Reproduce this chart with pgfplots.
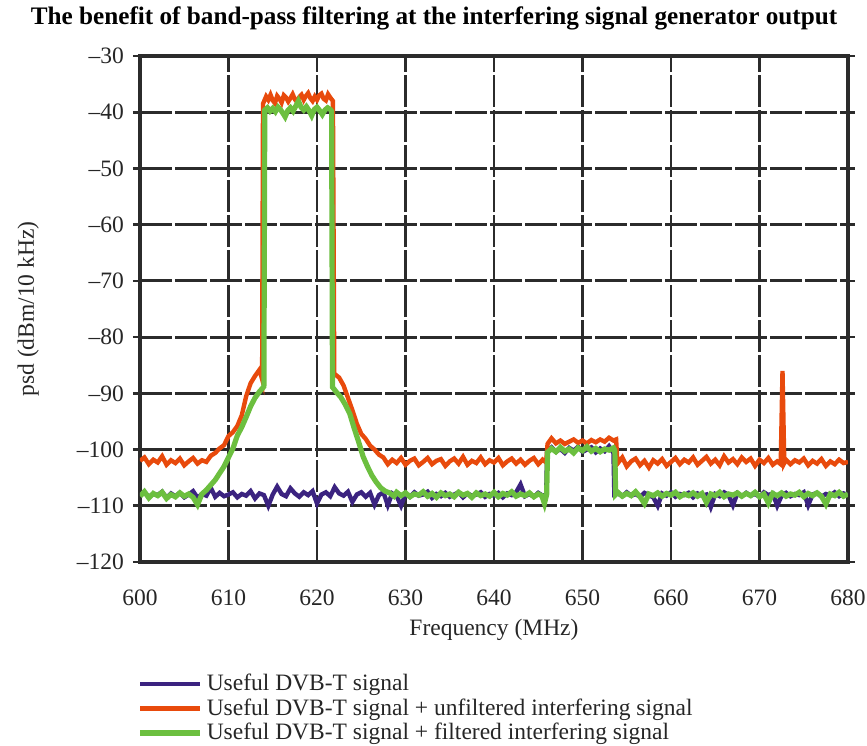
\documentclass[border=0pt]{standalone}
\usepackage{fontspec}
\setmainfont{Liberation Serif}
\usepackage{pgfplots}
\pgfplotsset{compat=1.18}
\definecolor{cblue}{HTML}{3B2380}
\definecolor{corange}{HTML}{E84A0C}
\definecolor{cgreen}{HTML}{6CBF3F}
\definecolor{cgrid}{HTML}{2B2B2B}
\begin{document}
\begin{tikzpicture}
\path[use as bounding box] (-70pt,-91.5pt) rectangle (363.5pt,281pt);
\begin{axis}[
  name=ax, at={(0,0)}, anchor=south west,
  scale only axis, width=354pt, height=253pt,
  xmin=600, xmax=680, ymin=-120, ymax=-30,
  xtick={600,610,...,680},
  ytick={-120,-110,...,-30},
  yticklabels={\textendash120,\textendash110,\textendash100,\textendash90,\textendash80,\textendash70,\textendash60,\textendash50,\textendash40,\textendash30},
  /pgf/number format/assume math mode=true,
  grid=major,
  major grid style={cgrid, line width=1.45pt, dash pattern=on 16pt off 1.5pt},
  axis line style={cgrid, line width=1.7pt},
  tick align=outside, major tick length=3.5pt,
  xtick style={draw=none}, ytick style={cgrid, line width=1.3pt},
  tick label style={font=\fontsize{11.75}{14}\selectfont, text=black!85},
  xticklabel style={yshift=-7pt},
  yticklabel style={xshift=-1pt},
  xlabel={Frequency (MHz)},
  xlabel style={at={(axis description cs:0.5,-0.134)}, anchor=center, font=\fontsize{11.75}{14}\selectfont, text=black!85},
  ylabel={psd (dBm/10 kHz)},
  ylabel style={at={(axis description cs:-0.158,0.5)}, anchor=center, font=\fontsize{11.75}{14}\selectfont, text=black!85},
  legend style={at={(axis description cs:-0.004,-0.205)}, anchor=north west, draw=none, fill=none,
    font=\fontsize{11.75}{12}\selectfont, text=black!85, inner xsep=0pt, row sep=-1.5pt},
  legend cell align=left,
  legend image code/.code={\draw[#1] (0pt,0pt) -- (22.5pt,0pt); \path (0pt,0pt) -- (30pt,0pt);},
]
\addplot[cblue, line width=2.2pt] table {
600 -108.2
600.5 -107.6
601 -108.4
601.5 -107.9
602 -108.1
602.5 -107.5
603 -108.6
603.5 -107.8
604 -108.3
604.5 -107.7
605 -108.5
605.5 -108.0
606 -107.4
606.5 -108.6
607 -107.9
607.5 -108.2
608 -106.8
608.5 -108.4
609 -107.7
609.5 -108.3
610 -108.0
610.5 -107.6
611 -108.5
611.5 -107.9
612 -108.2
612.5 -107.4
613 -108.7
613.5 -107.8
614 -108.1
614.5 -110.0
615 -108.0
615.5 -106.6
616 -107.9
616.5 -108.3
617 -106.9
617.5 -107.8
618 -108.4
618.5 -107.6
619 -108.1
619.5 -107.4
620 -109.6
620.5 -108.0
621 -107.6
621.5 -108.3
622 -106.7
622.5 -107.8
623 -108.2
623.5 -107.5
624 -109.3
624.5 -108.0
625 -107.6
625.5 -108.4
626 -107.7
626.5 -109.8
627 -108.1
627.5 -107.6
628 -109.9
628.5 -107.8
629 -108.3
629.5 -110.0
630 -107.9
630.5 -108.4
631 -107.6
631.5 -108.2
632 -108.0
632.5 -107.5
633 -108.6
633.5 -107.9
634 -108.3
634.5 -107.7
635 -108.4
635.5 -108.0
636 -107.6
636.5 -108.5
637 -107.8
637.5 -108.2
638 -108.0
638.5 -107.6
639 -108.4
639.5 -107.9
640 -108.2
640.5 -107.7
641 -108.5
641.5 -107.8
642 -108.1
642.5 -107.6
643 -106.2
643.5 -108.3
644 -107.9
644.5 -108.4
645 -107.7
645.5 -108.2
645.9 -108.0
646.0 -100.3
646.5 -99.6
647 -100.4
647.5 -99.9
648 -100.6
648.5 -99.7
649 -100.2
649.5 -99.5
650 -100.4
650.5 -100.0
651 -99.6
651.5 -100.5
652 -99.8
652.5 -100.3
653 -99.4
653.5 -100.6
653.6 -108.0
654 -107.8
654.5 -108.3
655 -107.6
655.5 -108.2
656 -107.9
656.5 -108.4
657 -107.7
657.5 -108.1
658 -108.5
658.5 -110.0
659 -107.8
659.5 -108.2
660 -107.6
660.5 -108.4
661 -107.9
661.5 -108.1
662 -107.7
662.5 -108.5
663 -107.8
663.5 -108.2
664 -108.0
664.5 -110.2
665 -107.9
665.5 -108.3
666 -107.6
666.5 -108.1
667 -109.9
667.5 -107.8
668 -108.3
668.5 -107.7
669 -108.2
669.5 -107.9
670 -108.4
670.5 -107.6
671 -108.1
671.5 -107.8
672 -110.0
672.5 -108.2
673 -107.7
673.5 -108.3
674 -107.9
674.5 -108.1
675 -107.6
675.5 -109.9
676 -108.0
676.5 -107.7
677 -108.4
677.5 -107.9
678 -108.2
678.5 -107.6
679 -108.3
679.5 -107.8
680 -108.1
};
\addlegendentry{Useful DVB-T signal}
\addplot[corange, line width=2.2pt] table {
600 -102.0
600.5 -101.4
601 -102.6
601.5 -101.8
602 -102.3
602.5 -101.2
603 -102.7
603.5 -101.9
604 -102.4
604.5 -101.6
605 -102.8
605.5 -102.1
606 -101.5
606.5 -102.5
607 -101.9
607.5 -102.2
608 -101.1
608.5 -100.6
609 -99.8
609.5 -99.2
610 -97.6
610.5 -96.9
611 -95.8
611.5 -93.9
612 -90.5
612.5 -88.2
613 -86.9
613.5 -85.8
613.8 -87.5
613.9 -38.5
614.25 -37.2
614.5 -37.8
614.75 -36.9
615 -37.9
615.25 -38.4
615.5 -37.1
615.75 -37.6
616 -38.3
616.25 -37.0
616.5 -37.4
616.75 -38.1
617 -37.5
617.25 -36.8
617.5 -37.7
617.75 -38.2
618 -37.3
618.25 -36.9
618.5 -37.8
618.75 -37.1
619 -36.6
619.25 -37.5
619.5 -38.0
619.75 -37.2
620 -37.8
620.25 -37.0
620.5 -36.7
620.75 -37.6
621 -37.9
621.25 -36.8
621.5 -37.4
621.8 -38.0
621.95 -86.5
622.5 -87.2
623 -88.6
623.5 -90.8
624 -93.0
624.5 -95.4
625 -97.2
625.5 -98.1
626 -99.3
626.5 -100.0
627 -100.9
627.5 -101.4
628 -102.6
628.5 -101.8
629 -102.4
629.5 -101.5
630 -102.7
630.5 -102.0
631 -101.6
631.5 -102.8
632 -102.2
632.5 -101.5
633 -102.6
633.5 -102.0
634 -101.7
634.5 -102.9
635 -102.1
635.5 -101.6
636 -102.5
636.5 -101.3
637 -102.7
637.5 -102.0
638 -102.4
638.5 -101.4
639 -102.6
639.5 -101.9
640 -102.3
640.5 -101.5
641 -102.8
641.5 -102.1
642 -101.6
642.5 -102.5
643 -101.8
643.5 -102.7
644 -102.0
644.5 -101.5
645 -102.6
645.5 -101.8
645.9 -102.3
646.05 -99.0
646.5 -98.0
647 -98.9
647.5 -98.4
648 -99.0
648.5 -98.6
649 -98.2
649.5 -98.8
650 -98.4
650.5 -98.9
651 -98.3
651.5 -98.7
652 -98.2
652.5 -98.6
653 -97.9
653.5 -98.4
653.8 -98.2
653.95 -102.5
654.5 -101.4
655 -103.0
655.5 -102.1
656 -101.6
656.5 -102.8
657 -102.0
657.5 -103.2
658 -101.9
658.5 -102.5
659 -101.7
659.5 -102.9
660 -102.2
660.5 -101.5
661 -102.6
661.5 -101.8
662 -102.3
662.5 -101.4
663 -102.7
663.5 -102.0
664 -101.3
664.5 -102.5
665 -101.8
665.5 -102.8
666 -101.2
666.5 -102.3
667 -101.7
667.5 -102.6
668 -101.4
668.5 -102.2
669 -101.6
669.5 -102.9
670 -101.8
670.5 -102.4
671 -101.5
671.5 -102.7
672 -102.1
672.4 -102.6
672.6 -86.0
672.8 -102.4
673 -101.8
673.5 -102.6
674 -101.9
674.5 -102.3
675 -101.6
675.5 -102.8
676 -102.0
676.5 -102.5
677 -101.7
677.5 -102.9
678 -102.1
678.5 -102.6
679 -101.8
679.5 -102.4
680 -102.2
};
\addlegendentry{Useful DVB-T signal + unfiltered interfering signal}
\addplot[cgreen, line width=2.6pt] table {
600 -108.3
600.5 -107.5
601 -108.6
601.5 -107.8
602 -108.2
602.5 -107.6
603 -108.7
603.5 -108.0
604 -108.4
604.5 -107.7
605 -108.3
605.5 -107.9
606 -108.5
606.5 -109.8
607 -107.9
607.5 -107.2
608 -106.3
608.5 -105.4
609 -104.2
609.5 -103.0
610 -101.4
610.5 -99.8
611 -97.5
611.5 -96.0
612 -94.2
612.5 -92.3
613 -90.8
613.5 -89.7
614.0 -88.8
614.1 -39.6
614.4 -39.2
614.7 -39.8
615 -39.3
615.3 -39.9
615.6 -39.1
615.9 -39.6
616.2 -40.3
616.4 -40.8
616.7 -39.7
617 -39.2
617.3 -39.8
617.6 -38.9
617.9 -38.0
618.2 -39.1
618.5 -39.6
618.8 -39.0
619.1 -39.7
619.4 -40.6
619.7 -39.5
620 -39.1
620.3 -39.7
620.6 -40.4
620.9 -39.6
621.2 -39.2
621.5 -39.5
621.65 -39.8
621.75 -88.9
622.2 -89.8
622.7 -90.7
623.2 -92.0
623.7 -93.6
624.2 -96.2
624.7 -98.6
625.2 -101.2
625.7 -103.0
626.2 -104.6
626.7 -105.8
627.2 -106.8
627.7 -107.4
628.2 -107.7
628.7 -108.3
629 -107.6
629.5 -108.2
630 -107.7
630.5 -108.4
631 -107.9
631.5 -108.1
632 -107.5
632.5 -108.3
633 -107.8
633.5 -108.5
634 -107.7
634.5 -108.2
635 -107.9
635.5 -108.4
636 -107.6
636.5 -108.1
637 -107.8
637.5 -108.5
638 -107.7
638.5 -108.2
639 -107.9
639.5 -108.3
640 -107.6
640.5 -108.4
641 -107.8
641.5 -108.1
642 -107.5
642.5 -108.3
643 -107.9
643.5 -108.2
644 -107.7
644.5 -108.4
645 -107.9
645.4 -108.2
645.7 -109.6
645.95 -108.0
646.05 -100.5
646.5 -99.8
647 -100.4
647.5 -99.6
648 -100.3
648.5 -99.9
649 -100.6
649.5 -99.7
650 -100.2
650.5 -99.5
651 -100.3
651.5 -99.8
652 -100.4
652.5 -99.9
653 -100.1
653.5 -99.7
653.65 -100.2
653.75 -108.0
654 -107.6
654.5 -108.3
655 -107.8
655.5 -108.2
656 -107.5
656.5 -108.4
657 -109.6
657.5 -107.9
658 -108.2
658.5 -107.7
659 -108.3
659.5 -107.8
660 -108.1
660.5 -107.6
661 -108.4
661.5 -107.9
662 -108.2
662.5 -107.7
663 -108.3
663.5 -107.8
664 -109.4
664.5 -107.9
665 -108.2
665.5 -107.6
666 -108.4
666.5 -107.9
667 -108.1
667.5 -107.7
668 -108.3
668.5 -107.8
669 -108.2
669.5 -107.6
670 -108.4
670.5 -107.9
671 -109.5
671.5 -107.8
672 -108.2
672.5 -107.7
673 -108.3
673.5 -107.9
674 -108.1
674.5 -107.6
675 -108.4
675.5 -107.8
676 -108.2
676.5 -107.7
677 -108.3
677.5 -109.7
678 -107.9
678.5 -108.2
679 -107.6
679.5 -108.3
680 -107.9
};
\addlegendentry{Useful DVB-T signal + filtered interfering signal}
\end{axis}
\node[font=\bfseries\fontsize{12.6}{14}\selectfont, text=black] at (147pt,272pt) {The benefit of band-pass filtering at the interfering signal generator output};
\end{tikzpicture}
\end{document}
